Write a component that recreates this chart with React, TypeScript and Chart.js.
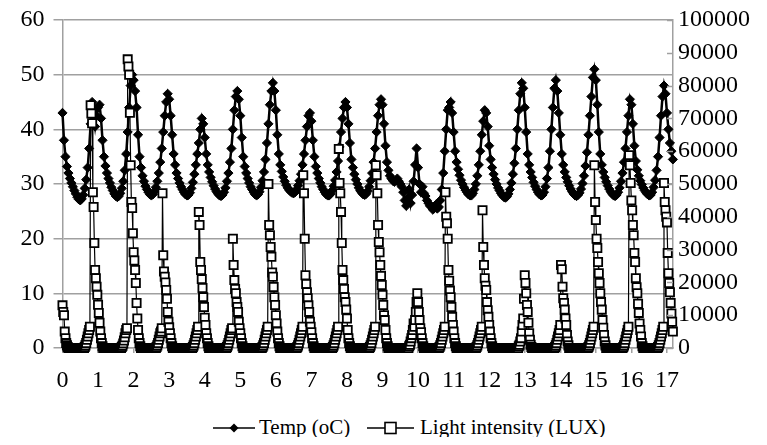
import React, { useEffect, useRef } from "react";
import { Chart, registerables } from "chart.js";

Chart.register(...registerables);

// ---- axis / tick data ----
const DAY_TICKS = [0, 1, 2, 3, 4, 5, 6, 7, 8, 9, 10, 11, 12, 13, 14, 15, 16, 17];
const X_MAX = 17.17;
const TEMP_MAX = 60;
const TEMP_STEP = 10;
const LUX_MAX = 100000;
const LUX_STEP = 10000;
const TEMP_SAMPLES_PER_DAY = 24; // hourly readings
const LIGHT_SAMPLES_PER_DAY = 48; // half-hourly readings

const SERIES_TEMP = "Temp (oC)";
const SERIES_LIGHT = "Light intensity (LUX)";

// ---- Temperature (°C), one row per day, hourly ----
const tempByDay: number[][] = [
  [43, 38, 35, 33.2, 32, 31, 30.2, 29.5, 28.8, 28.2, 27.6, 27.2, 27, 27.3, 28, 29.2, 30.8, 33, 36.5, 41, 45, 42.5, 40.5, 42.5],
  [44, 44.5, 42, 38, 35, 33.3, 32, 31, 30.2, 29.4, 28.8, 28.2, 27.8, 27.6, 27.8, 28.3, 29.2, 30.5, 32.5, 35.5, 39.5, 44, 48, 50],
  [49, 47, 44, 39, 35, 33, 31.5, 30.5, 29.6, 29, 28.5, 28.1, 27.9, 28.1, 28.6, 29.4, 30.5, 32, 34, 36.5, 39.5, 42.5, 45, 46.5],
  [45.5, 42.5, 39, 35.5, 33.5, 32, 31, 30.2, 29.5, 29, 28.5, 28.1, 27.9, 28, 28.4, 29.2, 30.3, 31.8, 33.5, 35.5, 37.5, 40, 42, 41],
  [38.5, 35.5, 33.5, 32.2, 31.2, 30.4, 29.7, 29.1, 28.6, 28.2, 27.9, 27.8, 28, 28.5, 29.3, 30.5, 32, 34, 36.5, 40, 43.5, 46, 47, 45.5],
  [42.5, 38.5, 35, 33.2, 32, 31, 30.2, 29.5, 29, 28.5, 28.1, 27.9, 28.1, 28.6, 29.4, 30.6, 32.2, 34.5, 37.5, 41, 44.5, 47, 48.5, 47],
  [43.5, 39, 35.5, 33.5, 32.3, 31.3, 30.5, 29.8, 29.3, 28.9, 28.6, 28.4, 28.3, 28.5, 29, 29.7, 30.6, 31.8, 33.5, 35.5, 38, 40.5, 42.5, 43],
  [41.5, 38, 35, 33.2, 32, 31, 30.2, 29.5, 29, 28.5, 28.1, 27.9, 27.9, 28.2, 28.8, 29.6, 30.7, 32.2, 34.2, 36.8, 39.5, 42, 44, 45],
  [44, 41, 37.5, 34.5, 33, 31.8, 30.8, 30, 29.3, 28.8, 28.4, 28.1, 28, 28.2, 28.7, 29.5, 30.6, 32, 34, 36.5, 39.5, 42.5, 44.5, 45.5],
  [44.5, 41, 37, 34, 32.5, 31.5, 31, 30.6, 30.4, 30.6, 31, 30.5, 30, 29.5, 28.5, 27, 26, 27.5, 29, 26.5, 28, 30.5, 33.5, 36.5],
  [33, 30, 28.5, 29.5, 28.3, 27.8, 27, 26.5, 26, 25.8, 25.3, 25.6, 26.2, 25.5, 25.8, 27, 29, 32, 36, 40, 43.5, 44, 45, 43],
  [39.5, 36, 34, 32.7, 31.6, 30.7, 30, 29.4, 28.9, 28.5, 28.1, 27.9, 27.9, 28.3, 29, 30, 31.5, 33.5, 36, 39, 41.5, 43.5, 43, 40.5],
  [37, 34.5, 33, 31.8, 30.8, 30, 29.3, 28.8, 28.3, 27.9, 27.6, 27.5, 27.7, 28.2, 29, 30.2, 31.8, 33.8, 36.5, 40, 43.5, 46.5, 48.5, 47.5],
  [44, 39.5, 35.5, 33.5, 32.2, 31.2, 30.3, 29.6, 29, 28.5, 28.1, 27.9, 28, 28.5, 29.5, 31, 33, 36, 40, 44, 47.5, 49, 47, 43],
  [39, 35.5, 33.5, 32.2, 31.2, 30.4, 29.7, 29.1, 28.6, 28.2, 27.9, 27.8, 28, 28.4, 29.1, 30.1, 31.5, 33.3, 35.8, 39, 42.5, 46, 49.5, 51],
  [49, 44.5, 39.5, 35.5, 33.5, 32.2, 31.2, 30.4, 29.7, 29.1, 28.6, 28.2, 27.9, 27.8, 28, 28.5, 29.3, 30.5, 32, 34, 36.5, 39.5, 42.5, 45.5],
  [44.5, 41, 37, 34.2, 32.6, 31.5, 30.6, 29.9, 29.3, 28.8, 28.4, 28.1, 27.9, 28, 28.5, 29.4, 30.7, 32.5, 35, 38.5, 42.5, 46, 48, 46.5],
  [43, 40, 37.5, 36, 34.5],
];

// ---- Light intensity (LUX), one row per day, half-hourly ----
const lightByDay: number[][] = [
  [13000, 11000, 10000, 5000, 3000, 1500, 800, 300,
   0, 0, 0, 0, 0, 0, 0, 0,
   0, 0, 0, 0, 0, 0, 0, 0,
   0, 0, 0, 0, 0, 0, 300, 800,
   1500, 2500, 3500, 4500, 5500, 6500, 74000, 71500,
   68500, 47500, 43000, 32000, 23800, 21300, 18700, 16200],
  [13200, 10700, 7700, 5000, 3000, 1500, 500, 0,
   0, 0, 0, 0, 0, 0, 0, 0,
   0, 0, 0, 0, 0, 0, 0, 0,
   0, 0, 0, 0, 0, 0, 0, 0,
   300, 700, 1400, 2300, 3300, 4500, 5500, 6000,
   88000, 85800, 83300, 71700, 55700, 44500, 42700, 35000],
  [29200, 26700, 23800, 19800, 13700, 9000, 5500, 3000,
   1500, 500, 0, 0, 0, 0, 0, 0,
   0, 0, 0, 0, 0, 0, 0, 0,
   0, 0, 0, 0, 0, 0, 0, 300,
   800, 1500, 2500, 3500, 4500, 5000, 6000, 47200,
   28300, 23300, 21700, 20000, 17700, 15000, 11000, 8000],
  [6300, 4500, 3000, 1500, 500, 0, 0, 0,
   0, 0, 0, 0, 0, 0, 0, 0,
   0, 0, 0, 0, 0, 0, 0, 0,
   0, 0, 0, 0, 0, 0, 0, 0,
   300, 800, 1500, 2500, 3500, 4500, 5500, 6500,
   41500, 37500, 26200, 23800, 21000, 18300, 15500, 12500],
  [9200, 7000, 4500, 3000, 1500, 500, 0, 0,
   0, 0, 0, 0, 0, 0, 0, 0,
   0, 0, 0, 0, 0, 0, 0, 0,
   0, 0, 0, 0, 0, 0, 300, 800,
   1500, 2500, 3500, 4500, 5500, 6000, 33300, 25300,
   20700, 18000, 16700, 14000, 12500, 11000, 8000, 6000],
  [4500, 3000, 1500, 500, 0, 0, 0, 0,
   0, 0, 0, 0, 0, 0, 0, 0,
   0, 0, 0, 0, 0, 0, 0, 0,
   0, 0, 0, 0, 0, 0, 300, 800,
   1500, 2500, 3500, 4500, 5500, 6500, 50000, 37500,
   34400, 30800, 27800, 23000, 21700, 18600, 15500, 13100],
  [10000, 7500, 5000, 3000, 1500, 500, 0, 0,
   0, 0, 0, 0, 0, 0, 0, 0,
   0, 0, 0, 0, 0, 0, 0, 0,
   0, 0, 0, 0, 0, 300, 800, 1500,
   2500, 3500, 4500, 5500, 6500, 52700, 47200, 33300,
   22200, 19500, 17000, 15200, 13000, 11000, 8000, 6500],
  [4800, 3000, 1500, 500, 0, 0, 0, 0,
   0, 0, 0, 0, 0, 0, 0, 0,
   0, 0, 0, 0, 0, 0, 0, 0,
   0, 0, 0, 0, 0, 300, 800, 1500,
   2500, 3500, 4500, 5500, 6500, 60700, 50300, 47200,
   41500, 32000, 23800, 20700, 18000, 15500, 14000, 11700],
  [9000, 5500, 3000, 1500, 500, 0, 0, 0,
   0, 0, 0, 0, 0, 0, 0, 0,
   0, 0, 0, 0, 0, 0, 0, 0,
   0, 0, 0, 0, 0, 0, 0, 300,
   800, 1500, 2500, 3500, 4500, 5500, 6500, 55700,
   52700, 47200, 37500, 32300, 29200, 25300, 22000, 19200],
  [16200, 13100, 10000, 8500, 5500, 3000, 1500, 500,
   0, 0, 0, 0, 0, 0, 0, 0,
   0, 0, 0, 0, 0, 0, 0, 0,
   0, 0, 0, 0, 0, 0, 0, 0,
   0, 0, 0, 0, 500, 1000, 2000, 3000,
   4000, 5500, 7500, 6500, 8500, 11000, 14000, 16700],
  [14000, 11000, 8500, 6000, 4800, 3000, 1500, 500,
   0, 0, 0, 0, 0, 0, 0, 0,
   0, 0, 0, 0, 0, 0, 0, 0,
   0, 0, 0, 0, 0, 300, 800, 1500,
   2500, 3500, 4500, 5500, 6500, 47500, 40000, 38000,
   33300, 23800, 20500, 17500, 15500, 12500, 9500, 7000],
  [5000, 3000, 1500, 500, 0, 0, 0, 0,
   0, 0, 0, 0, 0, 0, 0, 0,
   0, 0, 0, 0, 0, 0, 0, 0,
   0, 0, 0, 0, 0, 0, 0, 300,
   800, 1500, 2500, 3500, 4500, 5500, 6500, 42000,
   30800, 25300, 21300, 19000, 17700, 14000, 11500, 9500],
  [7000, 5000, 3000, 1500, 500, 0, 0, 0,
   0, 0, 0, 0, 0, 0, 0, 0,
   0, 0, 0, 0, 0, 0, 0, 0,
   0, 0, 0, 0, 0, 0, 0, 0,
   0, 0, 0, 0, 0, 0, 0, 0,
   500, 1000, 2000, 3000, 5000, 7000, 9000, 15000],
  [22200, 19800, 16700, 13100, 11000, 7700, 4500, 2500,
   1000, 300, 0, 0, 0, 0, 0, 0,
   0, 0, 0, 0, 0, 0, 0, 0,
   0, 0, 0, 0, 0, 0, 0, 0,
   0, 0, 0, 0, 0, 0, 0, 0,
   0, 300, 800, 1500, 2500, 3500, 4500, 5500],
  [7000, 25300, 24000, 18700, 15200, 13700, 11700, 9000,
   7000, 4000, 2000, 800, 0, 0, 0, 0,
   0, 0, 0, 0, 0, 0, 0, 0,
   0, 0, 0, 0, 0, 0, 0, 0,
   0, 0, 0, 0, 0, 0, 300, 800,
   1500, 2500, 3500, 4500, 5500, 6500, 55700, 44500],
  [39000, 33300, 30500, 26200, 22800, 19800, 16700, 14000,
   11700, 8500, 6200, 4000, 2000, 800, 0, 0,
   0, 0, 0, 0, 0, 0, 0, 0,
   0, 0, 0, 0, 0, 0, 0, 0,
   0, 0, 0, 0, 0, 300, 800, 1500,
   2500, 3500, 4500, 5500, 6500, 58800, 55700, 50300],
  [45000, 42000, 37500, 34400, 29000, 26200, 21300, 18500,
   16700, 13500, 10700, 7500, 5500, 3500, 1500, 500,
   0, 0, 0, 0, 0, 0, 0, 0,
   0, 0, 0, 0, 0, 0, 0, 0,
   0, 0, 0, 0, 300, 800, 1500, 2500,
   3500, 4500, 5500, 6500, 50300, 44500, 42000, 40000],
  [38300, 29000, 22800, 19800, 17000, 13700, 10500, 8000, 5000],
];

const FONT_FAMILY = '"Liberation Serif", "Times New Roman", serif';
const GRID_COLOR = "#a0a0a0";

const rightInnerTicks = {
  id: "rightInnerTicks",
  afterDraw(chart: any) {
    const s = chart.scales.y1;
    const area = chart.chartArea;
    if (!s) return;
    const ctx = chart.ctx;
    ctx.save();
    ctx.strokeStyle = GRID_COLOR;
    ctx.lineWidth = 1.5;
    s.ticks.forEach((t: any) => {
      const y = Math.round(s.getPixelForValue(t.value)) + 0.5;
      ctx.beginPath();
      ctx.moveTo(area.right - 6, y);
      ctx.lineTo(area.right, y);
      ctx.stroke();
    });
    ctx.restore();
  },
};

export default function App() {
  const canvasRef = useRef<HTMLCanvasElement | null>(null);

  useEffect(() => {
    if (!canvasRef.current) return;
    const tempPoints = tempByDay.flat().map((y, i) => ({ x: i / TEMP_SAMPLES_PER_DAY, y }));
    const lightPoints = lightByDay.flat().map((y, i) => ({ x: i / LIGHT_SAMPLES_PER_DAY, y }));
    const tickFont = { family: FONT_FAMILY, size: 24, lineHeight: 1 };
    const noVerticalPadding = (s: any) => {
      s.paddingTop = 0;
      s.paddingBottom = 0;
    };

    const chart = new Chart(canvasRef.current, {
      type: "line",
      data: {
        datasets: [
          {
            label: SERIES_TEMP,
            data: tempPoints,
            yAxisID: "y",
            order: 1,
            borderColor: "#000",
            borderWidth: 2.5,
            backgroundColor: "#000",
            pointStyle: "rectRot",
            pointRadius: 4.6,
            pointBorderWidth: 1,
            pointBackgroundColor: "#000",
            pointBorderColor: "#000",
            clip: false,
          },
          {
            label: SERIES_LIGHT,
            data: lightPoints,
            yAxisID: "y1",
            order: 0,
            borderColor: "#000",
            borderWidth: 1.2,
            backgroundColor: "#fff",
            pointStyle: "rect",
            pointRadius: 5.8,
            pointBorderWidth: 1.8,
            pointBackgroundColor: "#fff",
            pointBorderColor: "#000",
            clip: false,
          },
        ],
      } as any,
      options: {
        animation: false,
        responsive: true,
        maintainAspectRatio: false,
        devicePixelRatio: 1,
        events: [],
        layout: { padding: { top: 12, left: 0, right: 0, bottom: 0 } },
        plugins: { legend: { display: false }, tooltip: { enabled: false } },
        scales: {
          x: {
            type: "linear",
            min: 0,
            max: X_MAX,
            afterBuildTicks: (s: any) => {
              s.ticks = DAY_TICKS.map((v) => ({ value: v }));
            },
            afterFit: (s: any) => {
              s.height = 60;
            },
            ticks: {
              font: tickFont,
              color: "#000",
              padding: 16,
              maxRotation: 0,
              autoSkip: false,
              callback: (v: any) => String(v),
            },
            grid: { drawOnChartArea: false, drawTicks: true, tickLength: 5, color: GRID_COLOR, lineWidth: 1.5 },
            border: { display: true, color: GRID_COLOR, width: 1.5 },
          },
          y: {
            position: "left",
            min: 0,
            max: TEMP_MAX,
            afterFit: (s: any) => {
              s.width = 54.5;
              noVerticalPadding(s);
            },
            ticks: { stepSize: TEMP_STEP, font: tickFont, color: "#000", padding: 9 },
            grid: { color: GRID_COLOR, lineWidth: 1.5, drawTicks: true, tickLength: 9 },
            border: { display: true, color: GRID_COLOR, width: 1.5 },
          },
          y1: {
            position: "right",
            min: 0,
            max: LUX_MAX,
            afterFit: (s: any) => {
              s.width = 86;
              noVerticalPadding(s);
            },
            ticks: { stepSize: LUX_STEP, font: tickFont, color: "#000", padding: 5, callback: (v: any) => String(v) },
            grid: { drawOnChartArea: false, drawTicks: false },
            border: { display: true, color: GRID_COLOR, width: 1.5 },
          },
        },
      } as any,
      plugins: [rightInnerTicks],
    });
    return () => chart.destroy();
  }, []);

  const legendText: React.CSSProperties = {
    fontFamily: FONT_FAMILY,
    fontSize: 21,
    lineHeight: "21px",
    color: "#000",
    whiteSpace: "nowrap",
  };

  return (
    <div style={{ position: "relative", width: 751, height: 429, background: "#fff" }}>
      <div style={{ position: "absolute", left: 0, top: 0, width: 751, height: 400 }}>
        <canvas ref={canvasRef} />
      </div>
      <div style={{ position: "absolute", top: 409, left: 205, display: "flex", alignItems: "center" }}>
        <svg width="42" height="14" style={{ display: "block" }}>
          <line x1="0" y1="7" x2="42" y2="7" stroke="#000" strokeWidth="1.5" />
          <polygon points="21,2.5 25.5,7 21,11.5 16.5,7" fill="#000" />
        </svg>
        <span style={{ ...legendText, marginLeft: 4 }}>{SERIES_TEMP}</span>
      </div>
      <div style={{ position: "absolute", top: 409, left: 359, display: "flex", alignItems: "center" }}>
        <svg width="47" height="14" style={{ display: "block" }}>
          <line x1="0" y1="7" x2="47" y2="7" stroke="#000" strokeWidth="1.5" />
          <rect x="18" y="1.5" width="11" height="11" fill="#fff" stroke="#000" strokeWidth="1.6" />
        </svg>
        <span style={{ ...legendText, marginLeft: 6 }}>{SERIES_LIGHT}</span>
      </div>
    </div>
  );
}
